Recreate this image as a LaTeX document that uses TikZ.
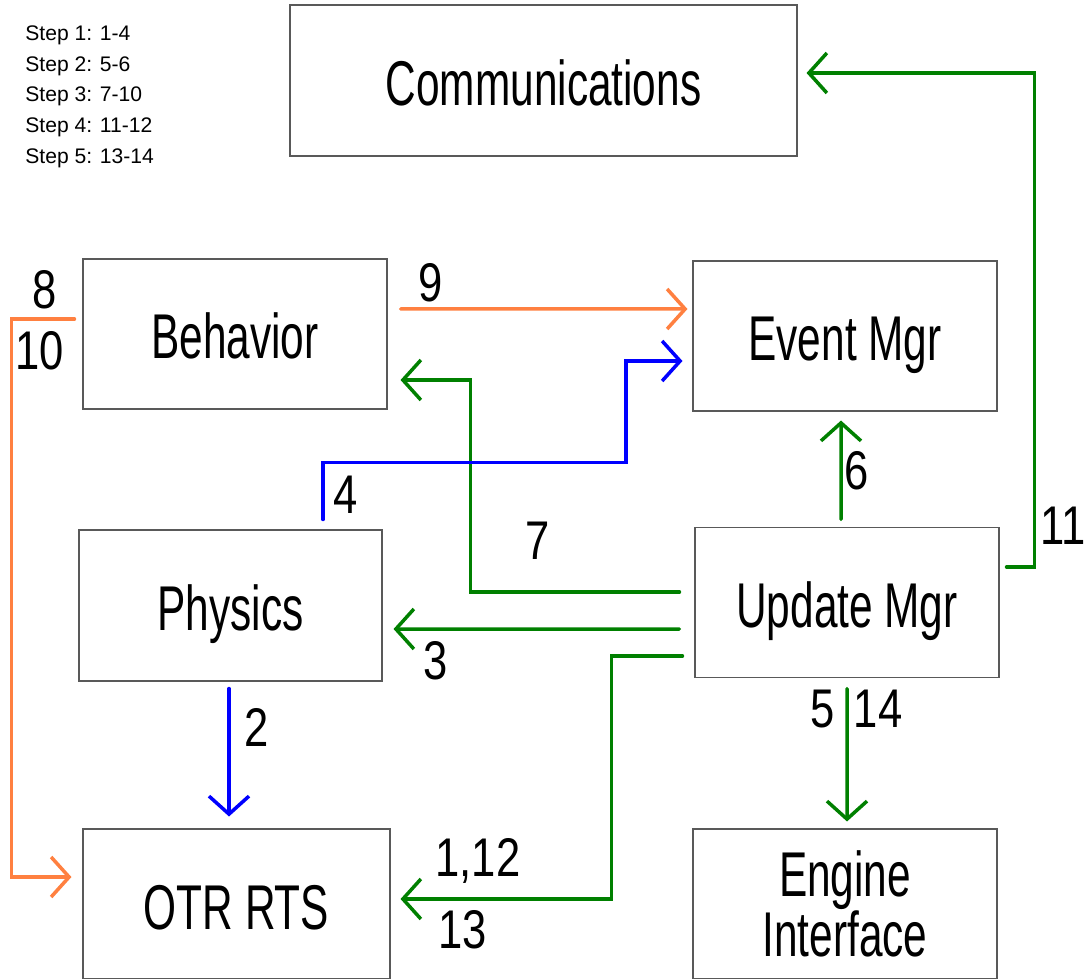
\documentclass[tikz,border=0pt]{standalone}
\usepackage{fontspec}
\setmainfont{Liberation Sans}
\newfontfamily\boxfont[FakeStretch=0.67]{Liberation Sans}
\newfontfamily\numfont[FakeStretch=0.8]{Liberation Sans}
\usetikzlibrary{arrows.meta}
\definecolor{flowgreen}{RGB}{0,128,0}
\definecolor{flowblue}{RGB}{0,0,255}
\definecolor{floworange}{RGB}{255,128,64}
\tikzset{
  box/.style={draw=black!65, line width=0.6pt, minimum width=6.08cm, minimum height=3cm, align=center, font=\boxfont\fontsize{36}{29}\selectfont},
  oneline/.style={text height=1.1cm, text depth=0.1cm},
  num/.style={inner sep=0pt, font=\numfont\fontsize{31}{31}\selectfont},
  flow/.style={line width=0.07cm, line cap=round, -{Straight Barb[length=0.36cm, width=0.8cm]}}
}

\begin{document}
\begin{tikzpicture}
                    \useasboundingbox (0,0) rectangle (21.74,19.56);
                    \node[anchor=north west, align=left, inner sep=0pt, font=\fontsize{12}{17.6}\selectfont] (steps) at (0.50,19.06) {Step 1: 1-4\\Step 2: 5-6\\Step 3: 7-10\\Step 4: 11-12\\Step 5: 13-14};
                    \node[box, oneline, minimum width=10.14cm, minimum height=3.02cm] (comm) at (10.87,17.95) {Communications};
                    \node[box, oneline] (beh) at (4.70,12.88) {Behavior};
                    \node[box, oneline] (evt) at (16.90,12.84) {Event Mgr};
                    \node[box, oneline, minimum width=6.06cm, minimum height=3.02cm] (phys) at (4.61,7.45) {Physics};
                    \node[box, oneline] (upd) at (16.94,7.51) {Update Mgr};
                    \node[box, oneline, minimum width=6.14cm] (otr) at (4.73,1.48) {OTR RTS};
                    \node[box] (eng) at (16.90,1.48) {Engine\\Interface};
                    \draw[flow, floworange] ([shift={(0.26,0.50)}]beh.east) -- ([shift={(-0.10,0.54)}]evt.west);
                    \node[num] (n9) at (8.62,13.90) {9};
                    \draw[flow, floworange] ([shift={(-0.16,0.30)}]beh.west) -- ++(-1.26,0) |- ([shift={(-0.22,0.54)}]otr.west);
                    \node[num] (n8) at (0.90,13.76) {8};
                    \node[num] (n10) at (0.80,12.54) {10};
                    \draw[flow, flowgreen] ([shift={(-0.30,0.21)}]upd.west) -- ++(-4.18,0) |- ([shift={(0.26,-0.92)}]beh.east);
                    \node[num] (n7) at (10.76,8.74) {7};
                    \draw[flow, flowblue] ([shift={(1.85,0.20)}]phys.north) |- ++(6.06,1.14) |- ([shift={(-0.20,-0.50)}]evt.west);
                    \node[num] (n4) at (6.92,9.66) {4};
                    \draw[flow, flowgreen] ([shift={(-0.30,-0.53)}]upd.west) -- ([shift={(0.22,-0.47)}]phys.east);
                    \node[num] (n3) at (8.72,6.34) {3};
                    \draw[flow, flowgreen] ([shift={(-0.24,-1.07)}]upd.west) -- ++(-1.42,0) |- ([shift={(0.20,0.10)}]otr.east);
                    \node[num] (n112) at (9.56,2.34) {1,12};
                    \node[num] (n13) at (9.26,0.96) {13};
                    \draw[flow, flowblue] ([shift={(-0.03,-0.14)}]phys.south) -- ([shift={(-0.15,0.24)}]otr.north);
                    \node[num] (n2) at (5.14,5.02) {2};
                    \draw[flow, flowgreen] ([shift={(-0.12,0.15)}]upd.north) -- ([shift={(-0.08,-0.18)}]evt.south);
                    \node[num] (n6) at (17.14,10.14) {6};
                    \draw[flow, flowgreen] ([shift={(0,-0.21)}]upd.south) -- ([shift={(0.04,0.14)}]eng.north);
                    \node[num] (n5) at (16.46,5.38) {5};
                    \node[num] (n14) at (17.56,5.38) {14};
                    \draw[flow, flowgreen] ([shift={(0.14,0.71)}]upd.east) -- ++(0.56,0) |- ([shift={(0.18,0.15)}]comm.east);
                    \node[num] (n11) at (21.26,9.04) {11};
                \end{tikzpicture}
\end{document}
